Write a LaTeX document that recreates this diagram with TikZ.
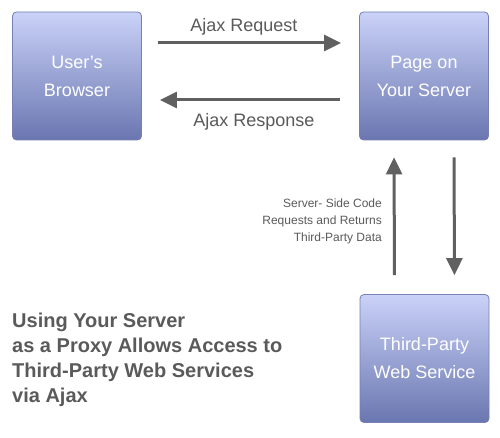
\documentclass[tikz,border=0pt]{standalone}
\usepackage{fontspec}
\setmainfont{Liberation Sans}
\usetikzlibrary{arrows.meta}
\definecolor{boxtop}{RGB}{202,210,248}
\definecolor{boxbot}{RGB}{106,118,176}
\definecolor{boxline}{RGB}{118,128,178}
\definecolor{arrowgray}{RGB}{96,96,96}
\definecolor{textgray}{RGB}{90,90,90}
\tikzset{
  srvbox/.style={draw=boxline, line width=0.8pt, rounded corners=4pt,
    top color=boxtop, bottom color=boxbot, minimum width=129pt, minimum height=128pt,
    text=white, align=center, font=\fontsize{18}{28}\selectfont},
  flow/.style={draw=arrowgray, line width=3pt, -{Triangle[length=17pt,width=16pt]}},
  flowlabel/.style={text=textgray, font=\fontsize{18}{22}\selectfont, inner sep=0pt}
}
\begin{document}
\begin{tikzpicture}[x=1pt,y=-1pt]
  \useasboundingbox[fill=white] (0,0) rectangle (500,438);
  % the three boxes
  \node[srvbox] (browser) at (77,76) {User's\\Browser};
  \node[srvbox] (server) at (424,76) {Page on\\Your Server};
  \node[srvbox] (thirdparty) at (424.5,358.5) {Third-Party\\Web Service};
  % browser <-> server
  \draw[flow, shorten <=16pt, shorten >=18pt] ([yshift=33pt]browser.east) -- ([yshift=33pt]server.west);
  \draw[flow, shorten <=19pt, shorten >=18pt] ([yshift=-24pt]server.west) -- ([yshift=-24pt]browser.east);
  \node[flowlabel] (req) at (244,27) {Ajax Request};
  \node[flowlabel] (resp) at (254,122) {Ajax Response};
  % server <-> third party
  \draw[flow, shorten <=19pt, shorten >=17pt] ([xshift=-30pt]thirdparty.north) -- ([xshift=-30pt]server.south);
  \draw[flow, shorten <=17pt, shorten >=19pt] ([xshift=30pt]server.south) -- ([xshift=30pt]thirdparty.north);
  \node[text=textgray, font=\fontsize{12}{17}\selectfont, align=right, anchor=east, inner sep=0pt]
    (code) at (382,221) {Server- Side Code\\Requests and Returns\\Third-Party Data};
  % caption
  \node[text=textgray, font=\bfseries\fontsize{20}{25}\selectfont, align=left, anchor=north west, inner sep=0pt]
    (caption) at (12,313) {Using Your Server\\as a Proxy Allows Access to\\Third-Party Web Services\\via Ajax};
\end{tikzpicture}
\end{document}
